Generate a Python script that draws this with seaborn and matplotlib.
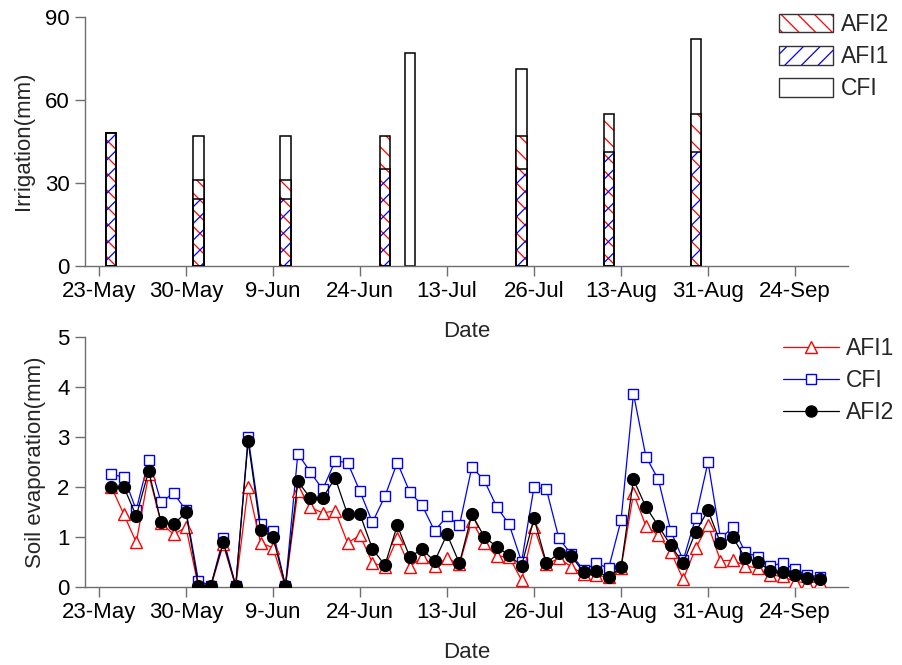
import numpy as np
import pandas as pd
import matplotlib
matplotlib.use("Agg")
import matplotlib.pyplot as plt
from matplotlib.patches import Patch
from matplotlib.lines import Line2D
import seaborn as sns

sns.set_style("ticks")
plt.rcParams['font.family'] = ['Liberation Sans', 'DejaVu Sans']
plt.rcParams['hatch.linewidth'] = 0.9

# ---------------- data ----------------
tick_pos = [0, 7, 14, 21, 28, 35, 42, 49, 56]
tick_labels = ["23-May", "30-May", "9-Jun", "24-Jun", "13-Jul",
               "26-Jul", "13-Aug", "31-Aug", "24-Sep"]

# irrigation events (position on the shared date axis)
irr_pos = [1, 8, 15, 23, 25, 34, 41, 48]
irr_cfi = [48, 47, 47, 0, 77, 71, 0, 82]
irr_afi2 = [48, 31, 31, 47, 0, 47, 55, 55]
irr_afi1 = [48, 24, 24, 35, 0, 35, 41, 41]

# soil evaporation, one value per day index 1..58
evap_day = list(range(1, 59))
evap_afi1 = [2.0, 1.45, 0.89, 2.25, 1.28, 1.05, 1.19, 0.0, 0.0, 0.85,
             0.0, 2.0, 0.88, 0.78, 0.0, 1.92, 1.59, 1.48, 1.52, 0.88,
             1.03, 0.48, 0.40, 0.97, 0.40, 0.59, 0.42, 0.57, 0.45, 1.32,
             0.87, 0.61, 0.60, 0.13, 1.20, 0.45, 0.57, 0.40, 0.25, 0.23,
             0.19, 0.37, 1.87, 1.22, 1.03, 0.70, 0.15, 0.77, 1.24, 0.52,
             0.53, 0.42, 0.37, 0.23, 0.21, 0.10, 0.08, 0.10]
evap_cfi = [2.25, 2.2, 1.54, 2.55, 1.69, 1.88, 1.53, 0.12, 0.02, 0.97,
            0.02, 3.0, 1.25, 1.11, 0.02, 2.67, 2.30, 1.95, 2.52, 2.49,
            1.91, 1.29, 1.81, 2.49, 1.90, 1.63, 1.12, 1.41, 1.23, 2.40,
            2.13, 1.60, 1.25, 0.50, 2.00, 1.95, 0.97, 0.65, 0.33, 0.47,
            0.37, 1.33, 3.87, 2.61, 2.15, 1.12, 0.53, 1.38, 2.50, 0.97,
            1.19, 0.69, 0.60, 0.42, 0.47, 0.35, 0.23, 0.20]
evap_afi2 = [2.0, 2.0, 1.42, 2.32, 1.29, 1.25, 1.49, 0.02, 0.02, 0.89,
             0.02, 2.92, 1.13, 1.0, 0.02, 2.11, 1.78, 1.78, 2.18, 1.45,
             1.45, 0.76, 0.43, 1.23, 0.60, 0.75, 0.51, 1.05, 0.47, 1.45,
             1.0, 0.80, 0.63, 0.42, 1.37, 0.47, 0.68, 0.61, 0.29, 0.32,
             0.19, 0.39, 2.15, 1.60, 1.22, 0.83, 0.47, 1.10, 1.53, 0.88,
             0.99, 0.57, 0.50, 0.32, 0.30, 0.23, 0.17, 0.15]

FS = 16
SPINE = '#6e6e6e'

fig = plt.figure(figsize=(9.03, 6.65), dpi=100)
ax1 = fig.add_axes([0.0941, 0.6005, 0.845, 0.3744])
ax2 = fig.add_axes([0.0941, 0.1177, 0.845, 0.3751])

# ---------------- top: irrigation ----------------
bw = 0.82
pos = np.array(irr_pos, dtype=float)
cfi = np.array(irr_cfi, dtype=float)
a2 = np.array(irr_afi2, dtype=float)
a1 = np.array(irr_afi1, dtype=float)

m = cfi > 0
ax1.bar(pos[m], cfi[m], width=bw, color='white', edgecolor='black', linewidth=1.1, zorder=2)
m = a2 > 0
ax1.bar(pos[m], a2[m], width=bw, color='white', edgecolor='red', hatch='\\\\', linewidth=0, zorder=3)
ax1.bar(pos[m], a2[m], width=bw, fill=False, edgecolor='black', linewidth=1.1, zorder=3.5)
m = a1 > 0
ax1.bar(pos[m], a1[m], width=bw, fill=False, edgecolor='blue', hatch='//', linewidth=0, zorder=4)
ax1.bar(pos[m], a1[m], width=bw, fill=False, edgecolor='black', linewidth=1.1, zorder=4.5)

ax1.set_xlim(-1.126, 60.26)
ax1.set_ylim(0, 90)
ax1.set_yticks([0, 30, 60, 90])
ax1.set_xticks(tick_pos)
ax1.set_xticklabels(tick_labels)
ax1.set_xlabel("Date", fontsize=FS, labelpad=14)
ax1.set_ylabel("Irrigation(mm)", fontsize=FS, labelpad=8)

h_afi2 = (Patch(facecolor='white', edgecolor='red', hatch='\\\\', linewidth=0),
          Patch(fill=False, edgecolor='#333333', linewidth=1.0))
h_afi1 = (Patch(facecolor='white', edgecolor='blue', hatch='//', linewidth=0),
          Patch(fill=False, edgecolor='#333333', linewidth=1.0))
h_cfi = Patch(facecolor='white', edgecolor='#333333', linewidth=1.0)
fig.legend([h_afi2, h_afi1, h_cfi], ["AFI2", "AFI1", "CFI"],
           loc='upper left', bbox_to_anchor=(779 / 903, 1 - 13 / 665),
           frameon=False, fontsize=FS + 0.5, borderpad=0, borderaxespad=0,
           handlelength=2.35, handleheight=0.87, handletextpad=0.35,
           labelspacing=0.4)

# ---------------- bottom: soil evaporation ----------------
df_cfi = pd.DataFrame({"day": evap_day, "E": evap_cfi})
df_a1 = pd.DataFrame({"day": evap_day, "E": evap_afi1})
df_a2 = pd.DataFrame({"day": evap_day, "E": evap_afi2})

sns.lineplot(data=df_cfi, x="day", y="E", ax=ax2, color='blue', lw=0.9,
             marker='s', ms=7.5, mfc='white', mec='blue', mew=1.0, zorder=3)
sns.lineplot(data=df_a1, x="day", y="E", ax=ax2, color='red', lw=0.9,
             marker='^', ms=9, mfc='white', mec='red', mew=1.0, zorder=4)
sns.lineplot(data=df_a2, x="day", y="E", ax=ax2, color='black', lw=0.9,
             marker='o', ms=8.5, mfc='black', mec='black', mew=1.0, zorder=5)

ax2.set_xlim(-1.126, 60.26)
ax2.set_ylim(0, 5)
ax2.set_yticks([0, 1, 2, 3, 4, 5])
ax2.set_xticks(tick_pos)
ax2.set_xticklabels(tick_labels)
ax2.set_xlabel("Date", fontsize=FS, labelpad=14)
ax2.set_ylabel("Soil evaporation(mm)", fontsize=FS, labelpad=8)

lh = [Line2D([], [], color='red', lw=0.9, marker='^', ms=8, mfc='white', mec='red', mew=1.0),
      Line2D([], [], color='blue', lw=0.9, marker='s', ms=6.5, mfc='white', mec='blue', mew=1.0),
      Line2D([], [], color='black', lw=0.9, marker='o', ms=8, mfc='black', mec='black')]
fig.legend(lh, ["AFI1", "CFI", "AFI2"], loc='upper left',
           bbox_to_anchor=(783 / 903, 1 - 337 / 665), frameon=False,
           fontsize=FS + 0.5, borderpad=0, borderaxespad=0,
           handlelength=2.45, handletextpad=0.3, labelspacing=0.4)

for ax in (ax1, ax2):
    for s in ('top', 'right'):
        ax.spines[s].set_visible(False)
    for s in ('left', 'bottom'):
        ax.spines[s].set_color(SPINE)
        ax.spines[s].set_linewidth(1.0)
    ax.tick_params(axis='both', direction='out', length=7, width=1.0,
                   color=SPINE, labelsize=FS, labelcolor='black', pad=4)
    ax.grid(False)

fig.savefig("out.png", dpi=100)
